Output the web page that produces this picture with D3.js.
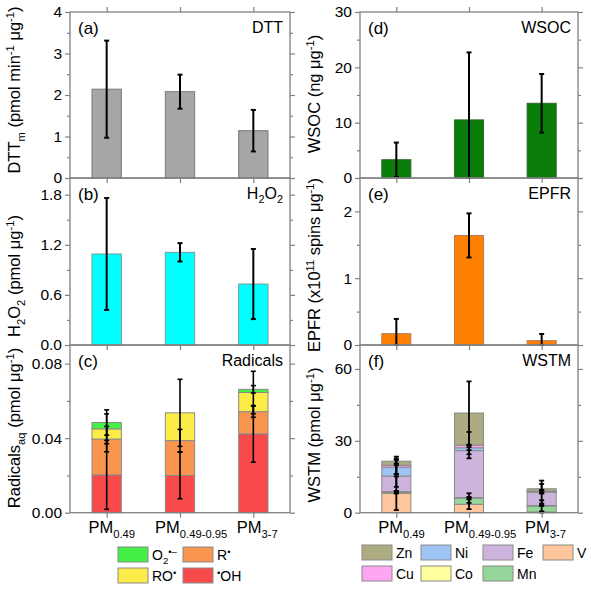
<!DOCTYPE html>
<html>
<head>
<meta charset="utf-8">
<script src="https://cdn.jsdelivr.net/npm/d3@7"></script>
<style>
  body { margin: 0; background: #fff; }
  text { font-family: "Liberation Sans", Arial, sans-serif; fill: #000; }
</style>
</head>
<body>
<svg id="chart" width="591" height="591"></svg>
<script>
// categories (PM size fractions)
const catBase = "PM";
const catSubs = ["0.49", "0.49-0.95", "3-7"];

// (a) DTT
const dttMean = [2.14, 2.08, 1.14];
const dttErr  = [1.17, 0.41, 0.50];
// (b) H2O2
const h2o2Mean = [1.09, 1.11, 0.73];
const h2o2Err  = [0.67, 0.11, 0.42];
// (c) radicals, stacked bottom -> top
const ohVals = [0.0203, 0.0200, 0.0423];
const rVals  = [0.0192, 0.0187, 0.0119];
const roVals = [0.0055, 0.0149, 0.0103];
const o2Vals = [0.0034, 0.0, 0.0017];
const ohErr = [0.0185, 0.0125, 0.0152];
const rErr  = [0.0068, 0.0060, 0.0030];
const roErr = [0.0080, 0.0180, 0.0114];
const o2Err = [0.0068, 0.0, 0.0020];
// (d) WSOC
const wsocMean = [3.3, 10.5, 13.5];
const wsocErr  = [3.1, 12.2, 5.3];
// (e) EPFR
const epfrMean = [0.17, 1.64, 0.065];
const epfrErr  = [0.22, 0.33, 0.10];
// (f) WSTM, stacked bottom -> top
const vVals  = [8.1, 3.5, 0.3];
const mnVals = [0.4, 2.6, 2.5];
const coVals = [0.3, 0.2, 0.2];
const feVals = [6.5, 19.6, 5.6];
const niVals = [3.7, 1.2, 0.2];
const cuVals = [0.8, 1.1, 0.2];
const znVals = [1.7, 13.4, 1.0];
const vErr  = [7.0, 2.0, 0.2];
const mnErr = [0.5, 2.0, 2.4];
const coErr = [0.3, 0.3, 0.2];
const feErr = [4.5, 1.5, 4.8];
const niErr = [3.0, 1.0, 0.5];
const cuErr = [3.6, 5.5, 0.5];
const znErr = [1.0, 13.2, 2.0];

const svg = d3.select("#chart");
const axisCol = "#808080";

// text with sub/superscripts
function rich(t, parts, fs) {
  let cur = 0;
  parts.forEach(p => {
    const kind = p[1] || "n";
    const target = kind === "sub" ? 0.28 * fs : kind === "sup" ? -0.38 * fs : 0;
    t.append("tspan")
      .attr("dy", (target - cur).toFixed(2))
      .attr("font-size", kind === "n" ? fs : fs * 0.68)
      .text(p[0]);
    cur = target;
  });
  return t;
}

function makePanel(o) {
  const g = svg.append("g");
  const x = d3.scaleLinear().domain([0.5, 3.5]).range([o.x0, o.x1]);
  const y = d3.scaleLinear().domain(o.domain).range([o.y1, o.y0]);

  const left = g.append("g").attr("transform", `translate(${o.x0},0)`)
    .call(d3.axisLeft(y).tickValues(o.ticks).tickSize(5).tickPadding(3).tickFormat(d3.format(o.fmt)));
  left.selectAll("text").attr("font-size", 15.5).attr("font-family", null);
  g.append("g").attr("transform", `translate(${o.x0},0)`)
    .call(d3.axisLeft(y).tickValues(o.minor).tickSize(3).tickFormat(""));
  g.append("g").attr("transform", `translate(${o.x1},0)`)
    .call(d3.axisRight(y).tickValues(o.ticks).tickSize(5).tickFormat(""));
  g.append("g").attr("transform", `translate(${o.x1},0)`)
    .call(d3.axisRight(y).tickValues(o.minor).tickSize(3).tickFormat(""));
  g.append("g").attr("transform", `translate(0,${o.y1})`)
    .call(d3.axisBottom(x).tickValues([1, 2, 3]).tickSize(5).tickFormat(""));
  if (o.top) {
    g.append("g").attr("transform", `translate(0,${o.y0})`)
      .call(d3.axisTop(x).tickValues([1, 2, 3]).tickSize(5).tickFormat(""));
  }
  g.selectAll(".domain").remove();
  g.selectAll(".tick line").attr("stroke", axisCol).attr("stroke-width", 1.2);

  g.append("rect").attr("x", o.x0).attr("y", o.y0)
    .attr("width", o.x1 - o.x0).attr("height", o.y1 - o.y0)
    .attr("fill", "none").attr("stroke", axisCol).attr("stroke-width", 1.3);

  g.append("text").attr("x", o.x0 + 8).attr("y", o.y0 + 22)
    .attr("font-size", 17).text(o.label);
  rich(g.append("text").attr("x", o.x1 - 7).attr("y", o.y0 + 21)
    .attr("text-anchor", "end"), o.name, 16);

  rich(g.append("text").attr("transform", `translate(${o.tx},${o.ty}) rotate(-90)`)
    .attr("text-anchor", "middle"), o.title, 16.5);

  const body = g.insert("g", "rect");
  return { g, body, x, y };
}

function errBar(g, cx, yHi, yLo, sw) {
  g.append("line").attr("x1", cx).attr("x2", cx).attr("y1", yHi).attr("y2", yLo)
    .attr("stroke", "#000").attr("stroke-width", sw);
  [yHi, yLo].forEach(v => g.append("line").attr("x1", cx - 2.5).attr("x2", cx + 2.5)
    .attr("y1", v).attr("y2", v).attr("stroke", "#000").attr("stroke-width", sw));
}

function simpleBars(p, mean, err, fill, stroke) {
  const bw = p.x(1.4) - p.x(1);
  mean.forEach((m, i) => {
    p.body.append("rect").attr("x", p.x(i + 1) - bw / 2).attr("y", p.y(m))
      .attr("width", bw).attr("height", p.y(0) - p.y(m))
      .attr("fill", fill).attr("stroke", stroke).attr("stroke-width", 1);
  });
  mean.forEach((m, i) => {
    const lo = Math.max(p.y.domain()[0], m - err[i]);
    errBar(p.body, p.x(i + 1), p.y(m + err[i]), p.y(lo), 2);
  });
}

function stackBars(p, keys, table, errs, colors, sw) {
  const bw = p.x(1.4) - p.x(1);
  const series = d3.stack().keys(keys)(table);
  series.forEach((s, k) => {
    s.forEach((d, i) => {
      if (d[1] - d[0] <= 0) return;
      p.body.append("rect").attr("x", p.x(i + 1) - bw / 2).attr("y", p.y(d[1]))
        .attr("width", bw).attr("height", p.y(d[0]) - p.y(d[1]))
        .attr("fill", colors[k]).attr("stroke", "#8a8a8a").attr("stroke-width", 1);
    });
  });
  series.forEach((s, k) => {
    s.forEach((d, i) => {
      const e = errs[k][i];
      if (d[1] - d[0] <= 0 || e <= 0) return;
      errBar(p.body, p.x(i + 1), p.y(d[1] + e), p.y(Math.max(0, d[1] - e)), sw);
    });
  });
}

const L = { x0: 70, x1: 290 }, R = { x0: 360, x1: 578 };
const rowsY = [[12, 178], [178, 345], [345, 512.7]];
const mug = "\u03bcg";

const pa = makePanel({ ...L, y0: rowsY[0][0], y1: rowsY[0][1], top: true,
  domain: [0, 4], ticks: [0, 1, 2, 3, 4], minor: [0.5, 1.5, 2.5, 3.5], fmt: "d",
  label: "(a)", name: [["DTT"]], tx: 20, ty: 90,
  title: [["DTT"], ["m", "sub"], [" (pmol min"], ["-1", "sup"], [" " + mug], ["-1", "sup"], [")"]] });
simpleBars(pa, dttMean, dttErr, "#a6a6a6", "#7a7a7a");

const pb = makePanel({ ...L, y0: rowsY[1][0], y1: rowsY[1][1],
  domain: [0, 2.0], ticks: [0, 0.6, 1.2, 1.8], minor: [0.3, 0.9, 1.5], fmt: ".1f",
  label: "(b)", name: [["H"], ["2", "sub"], ["O"], ["2", "sub"]], tx: 20, ty: 276,
  title: [["H"], ["2", "sub"], ["O"], ["2", "sub"], [" (pmol " + mug], ["-1", "sup"], [")"]] });
simpleBars(pb, h2o2Mean, h2o2Err, "#00ffff", "#7a9a9a");

const pc = makePanel({ ...L, y0: rowsY[2][0], y1: rowsY[2][1],
  domain: [0, 0.09], ticks: [0, 0.04, 0.08], minor: [0.02, 0.06], fmt: ".2f",
  label: "(c)", name: [["Radicals"]], tx: 20, ty: 428,
  title: [["Radicals"], ["aq", "sub"], [" (pmol " + mug], ["-1", "sup"], [")"]] });
const radTable = catSubs.map((c, i) => ({ oh: ohVals[i], r: rVals[i], ro: roVals[i], o2: o2Vals[i] }));
const radColors = ["#f84a4a", "#fa9550", "#fcec48", "#44f044"];
stackBars(pc, ["oh", "r", "ro", "o2"], radTable, [ohErr, rErr, roErr, o2Err], radColors, 1.6);

const pd = makePanel({ ...R, y0: rowsY[0][0], y1: rowsY[0][1], top: true,
  domain: [0, 30], ticks: [0, 10, 20, 30], minor: [5, 15, 25], fmt: "d",
  label: "(d)", name: [["WSOC"]], tx: 320, ty: 94,
  title: [["WSOC (ng " + mug], ["-1", "sup"], [")"]] });
simpleBars(pd, wsocMean, wsocErr, "#0a7d0a", "#2a6a2a");

const pe = makePanel({ ...R, y0: rowsY[1][0], y1: rowsY[1][1],
  domain: [0, 2.5], ticks: [0, 1, 2], minor: [0.5, 1.5, 2.5], fmt: "d",
  label: "(e)", name: [["EPFR"]], tx: 320, ty: 265,
  title: [["EPFR (x10"], ["11", "sup"], [" spins " + mug], ["-1", "sup"], [")"]] });
simpleBars(pe, epfrMean, epfrErr, "#ff8000", "#b08060");

const pf = makePanel({ ...R, y0: rowsY[2][0], y1: rowsY[2][1],
  domain: [0, 70], ticks: [0, 30, 60], minor: [15, 45], fmt: "d",
  label: "(f)", name: [["WSTM"]], tx: 320, ty: 435,
  title: [["WSTM (pmol " + mug], ["-1", "sup"], [")"]] });
const metalKeys = ["V", "Mn", "Co", "Fe", "Ni", "Cu", "Zn"];
const metalTable = catSubs.map((c, i) => ({ V: vVals[i], Mn: mnVals[i], Co: coVals[i], Fe: feVals[i],
  Ni: niVals[i], Cu: cuVals[i], Zn: znVals[i] }));
const metalColors = { V: "#ffc59c", Mn: "#95d69a", Co: "#ffff9e", Fe: "#cdb4dc", Ni: "#9ec4f5", Cu: "#ffa6f2", Zn: "#acab82" };
stackBars(pf, metalKeys, metalTable, [vErr, mnErr, coErr, feErr, niErr, cuErr, znErr],
  metalKeys.map(k => metalColors[k]), 1.8);

// x tick labels under bottom panels
[pc, pf].forEach(p => {
  catSubs.forEach((s, i) => {
    const t = rich(svg.append("text").attr("x", p.x(i + 1)).attr("y", 533).attr("text-anchor", "middle"),
      [[catBase], [s, "sub"]], 16.5);
    const tmp = svg.append("text").attr("font-size", 16.5).text(catBase + s);
    const full = tmp.node().getComputedTextLength();
    tmp.remove();
    const w = t.node().getComputedTextLength();
    t.attr("x", p.x(i + 1) + (full - w) / 2);
  });
});

// legends
function legend(items, x0s, ys, cols) {
  items.forEach((it, i) => {
    const cx = x0s[i % cols], cy = ys[Math.floor(i / cols)];
    svg.append("rect").attr("x", cx).attr("y", cy).attr("width", 30).attr("height", 15)
      .attr("fill", it.color).attr("stroke", "#8a8a8a").attr("stroke-width", 1);
    rich(svg.append("text").attr("x", cx + 34).attr("y", cy + 13), it.label, 14);
  });
}
legend([
  { color: radColors[3], label: [["O"], ["2", "sub"], ["\u2022\u2013", "sup"]] },
  { color: radColors[1], label: [["R"], ["\u2022", "sup"]] },
  { color: radColors[2], label: [["RO"], ["\u2022", "sup"]] },
  { color: radColors[0], label: [["\u2022", "sup"], ["OH"]] }
], [118, 183], [547, 568], 2);

legend(["Zn", "Ni", "Fe", "V", "Cu", "Co", "Mn"].map(k => ({ color: metalColors[k], label: [[k]] })),
  [362, 421, 483, 543], [545, 566], 4);
</script>
</body>
</html>
